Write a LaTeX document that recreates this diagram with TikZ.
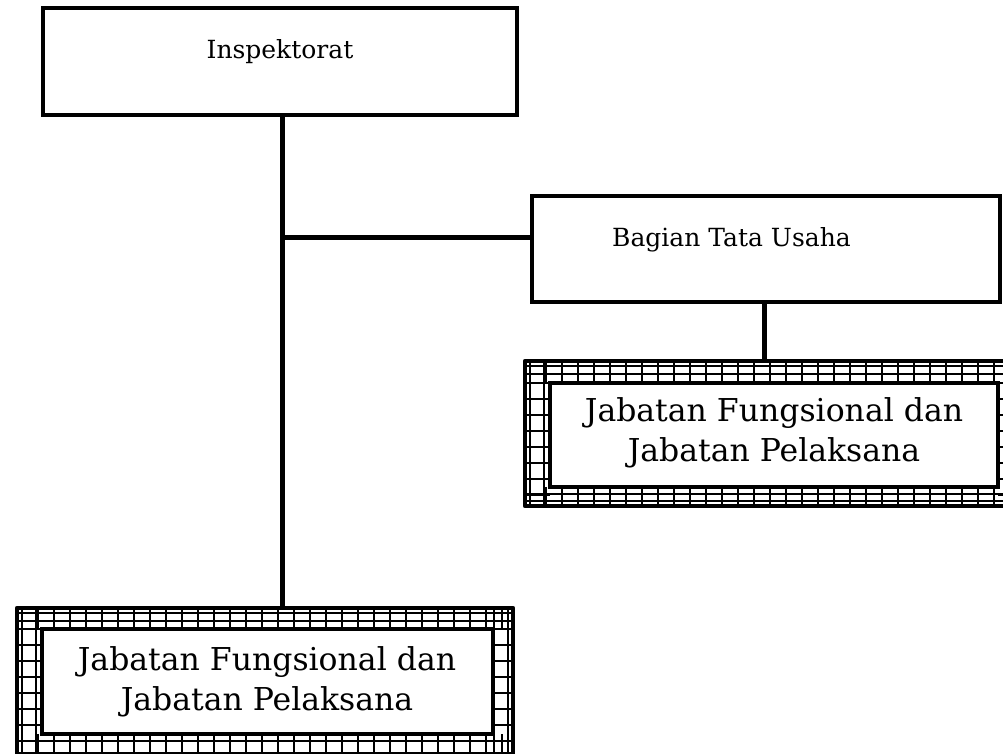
\documentclass[tikz,border=0pt]{standalone}
\usepackage{fontspec}
\setmainfont{DejaVu Serif}
\usetikzlibrary{fit,calc}

% band of cells between an outer and an inner rectangle
% #1,#2,#3,#4 = outer left, top, right, bottom; #5,#6,#7,#8 = inner left, top, right, bottom
\newcommand\cellframe[8]{%
  \begin{scope}
    \clip (#1,#2) rectangle (#3,#4);
    \fill[white] (#1,#2) rectangle (#3,#4);
    \begin{scope}[cellline]
      % top and bottom bands
      \draw (#1,{#2+5}) -- (#3,{#2+5});
      \draw (#1,{#2+13}) -- (#3,{#2+13});
      \draw (#1,{#8+7}) -- (#3,{#8+7});
      \draw (#1,{#4-5}) -- (#3,{#4-5});
      \foreach \k in {0,...,32} {
        \draw ({#1+5+16*\k},#2) -- ({#1+5+16*\k},#6);
        \draw ({#1+5+16*\k},#8) -- ({#1+5+16*\k},#4);
      }
      % left and right bands
      \draw ({#1+5},#2) -- ({#1+5},#4);
      \draw ({#1+19},#2) -- ({#1+19},#4);
      \draw ({#3-5},#2) -- ({#3-5},#4);
      \draw ({#3-19},#2) -- ({#3-19},#4);
      \foreach \k in {0,...,10} {
        \draw (#1,{#6+16*\k}) -- (#5,{#6+16*\k});
        \draw (#7,{#6+16*\k}) -- (#3,{#6+16*\k});
      }
    \end{scope}
  \end{scope}
  \draw[boxline] (#1,#2) rectangle (#3,#4);
}

\tikzset{
  boxline/.style={line width=4.5pt, line join=round},
  cellline/.style={line width=1.4pt},
  orgbox/.style={draw, line width=4.5pt, fill=white, inner sep=0pt, outer sep=0pt},
  innerbox/.style={draw, line width=4.5pt, fill=white, inner sep=0pt, outer sep=0pt},
  smalltext/.style={font=\fontsize{25}{30}\selectfont, inner sep=0pt},
  bigtext/.style={font=\fontsize{31.5}{40}\selectfont, align=center, inner sep=0pt},
  link/.style={line width=5pt},
}

\begin{document}
\begin{tikzpicture}[x=1pt, y=-1pt]
  \useasboundingbox (0,0) rectangle (1003,753);

  % top box
  \node[orgbox, fit={(43,8) (517,115)}] (insp) {};
  \node[smalltext] (insplabel) at (280,52) {Inspektorat};

  % secretariat box
  \node[orgbox, fit={(532,196) (1000,302)}] (tu) {};
  \node[smalltext, anchor=west] (tulabel) at (612,240) {Bagian Tata Usaha};

  % framed boxes for the functional positions
  \node[fit={(525,361) (1025,506)}, inner sep=0pt, outer sep=0pt] (frameR) {};
  \node[fit={(17,608) (513,758)}, inner sep=0pt, outer sep=0pt] (frameB) {};

  % connectors
  \coordinate (trunk) at (282,237);
  \draw[link] (insp.south -| trunk) -- (trunk |- frameB.north);
  \draw[link] (trunk) -- (trunk -| tu.west);
  \draw[link] (tu.south -| 764,0) -- (frameR.north -| 764,0);

  \cellframe{525}{361}{1025}{506}{550}{383}{998}{487}
  \node[innerbox, fit={(550,383) (998,487)}] (jfR) {};
  \node[bigtext] (jfRlabel) at (774,433) {Jabatan Fungsional dan\\Jabatan Pelaksana};

  \cellframe{17}{608}{513}{758}{42}{629}{493}{734}
  \node[innerbox, fit={(42,629) (493,734)}] (jfB) {};
  \node[bigtext] (jfBlabel) at (267,682) {Jabatan Fungsional dan\\Jabatan Pelaksana};
\end{tikzpicture}
\end{document}
